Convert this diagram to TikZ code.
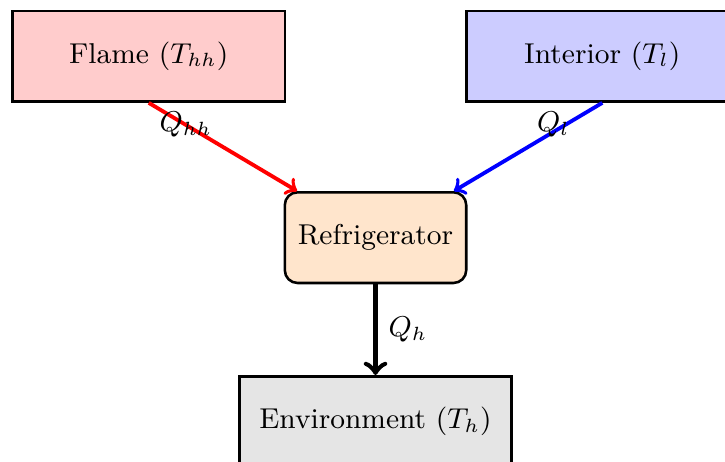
\documentclass[tikz,border=0pt]{standalone}
\usetikzlibrary{positioning}
\begin{document}
\begin{tikzpicture}[
					every node/.style={font=\small},
					reservoir/.style={draw, thick, minimum width=3cm, minimum height=1cm},
					engine/.style={draw, thick, rounded corners, minimum width=2cm, minimum height=1cm},
					heatflow/.style={very thick, ->},
					heatlabel/.style={font=\small}]
					\useasboundingbox (-4.14,-2.47) rectangle (3.853,2.62);
					\node [engine, fill=orange!20] (fridge) at (0,0) {Refrigerator};
					\node [reservoir, fill=red!20] (flame) at (-2.5,2) {Flame ($T_{hh}$)};
					\node [reservoir, fill=blue!20] (interior) at (2.5,2) {Interior ($T_l$)};
					\node [reservoir, fill=gray!20, below=1cm of fridge] (env) {Environment ($T_h$)};
					\draw [heatflow, red] (flame.south) -- (fridge)
						node [heatlabel, pos=0.25, text=black] {$Q_{hh}$};
					\draw [heatflow, blue] (interior.south) -- (fridge)
						node [heatlabel, pos=0.25, xshift=-0.13cm, text=black] {$Q_l$};
					\draw [heatflow, ultra thick] (fridge) -- (env)
						node [heatlabel, midway, right] {$Q_h$};
				\end{tikzpicture}
\end{document}
